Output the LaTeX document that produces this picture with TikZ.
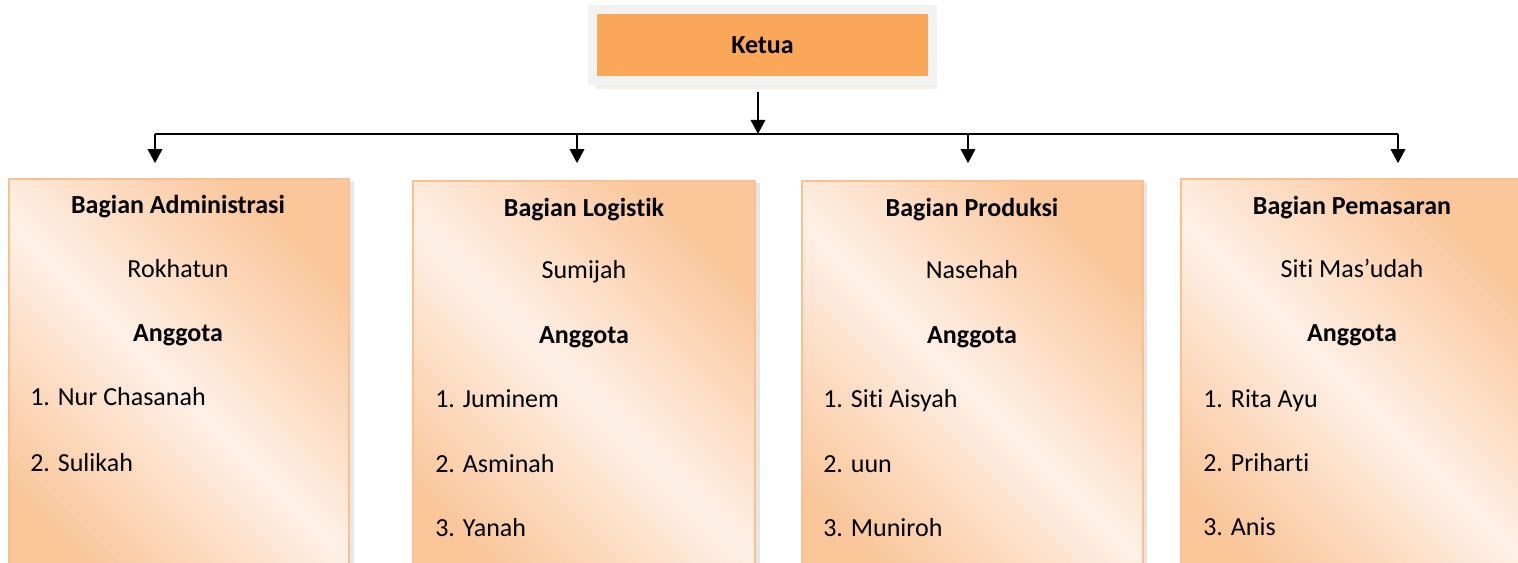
\documentclass[tikz,border=0pt]{standalone}
\usepackage{fontspec}
\setmainfont[Ligatures=NoCommon]{Carlito}
\usetikzlibrary{arrows.meta,positioning,shadows,calc}
\definecolor{ketuaorange}{HTML}{FAA75A}
\definecolor{ketuaframe}{HTML}{F2F2F2}
\definecolor{bagianedge}{HTML}{FAC090}
\definecolor{bagiandark}{HTML}{FAC69A}
\definecolor{bagianlight}{HTML}{FEF0E6}
\newcommand{\diagfont}{\fontsize{18.5}{22}\selectfont}
\tikzset{
  ketuabox/.style={draw=ketuaframe, line width=0.22cm, fill=ketuaorange, minimum width=8.5cm, minimum height=1.78cm, font=\diagfont\bfseries, drop shadow={opacity=0.2, shadow xshift=0.1cm, shadow yshift=-0.2cm, fill=brown!70}},
  bagianbox/.style={draw=bagianedge, line width=0.05cm, top color=bagiandark, bottom color=bagiandark, middle color=bagianlight, shading angle=-45, minimum width=8.5cm, minimum height=10.5cm, anchor=north, drop shadow={opacity=0.2, shadow xshift=0.12cm, shadow yshift=-0.05cm}},
  headtext/.style={font=\diagfont\bfseries, anchor=base, inner sep=0pt},
  nametext/.style={font=\diagfont, anchor=base, inner sep=0pt},
  itemtext/.style={font=\diagfont, anchor=base west, inner sep=0pt},
  arrow/.style={-{Triangle[length=0.35cm,width=0.36cm]}, line width=0.05cm},
  barline/.style={line width=0.05cm}
}

\begin{document}
\begin{tikzpicture}[x=0.025cm, y=-0.025cm]
  \useasboundingbox (0,0) rectangle (1518,563);
  \clip (0,0) rectangle (1518,563);

  \node[ketuabox] (ketua) at (762.5,45) {Ketua};

  \node[bagianbox] (adm) at (179,178) {};
  \node[bagianbox, minimum width=8.55cm] (log) at (584,180) {};
  \node[bagianbox] (prod) at (972.5,180) {};
  \node[bagianbox] (pem) at (1351,178) {};

  % connectors
  \coordinate (bar) at (758,134);
  \coordinate (barA) at (155,134);
  \coordinate (barB) at (577,134);
  \coordinate (barC) at (968,134);
  \coordinate (barD) at (1398,134);
  \draw[arrow, shorten <=0.17cm] (ketua.south -| bar) -- (bar);
  \draw[barline] (barA) -- (barD);
  \draw[arrow, shorten >=0.37cm] (barA) -- (barA |- adm.north);
  \draw[arrow, shorten >=0.42cm] (barB) -- (barB |- log.north);
  \draw[arrow, shorten >=0.42cm] (barC) -- (barC |- prod.north);
  \draw[arrow, shorten >=0.37cm] (barD) -- (barD |- pem.north);

  % Bagian Administrasi
  \node[headtext] (admhead) at (178,214) {Bagian Administrasi};
  \node[nametext] (admname) at (178,278) {Rokhatun};
  \node[headtext] (admang) at (178,342) {Anggota};
  \node[itemtext] (adm1) at (30,406) {1. Nur Chasanah};
  \node[itemtext] (adm2) at (30,471) {2. Sulikah};

  % Bagian Logistik
  \node[headtext] (loghead) at (584,217) {Bagian Logistik};
  \node[nametext] (logname) at (584,279) {Sumijah};
  \node[headtext] (logang) at (584,344) {Anggota};
  \node[itemtext] (log1) at (435,408) {1. Juminem};
  \node[itemtext] (log2) at (435,472) {2. Asminah};
  \node[itemtext] (log3) at (435,536) {3. Yanah};

  % Bagian Produksi
  \node[headtext] (prodhead) at (972,217) {Bagian Produksi};
  \node[nametext] (prodname) at (972,279) {Nasehah};
  \node[headtext] (prodang) at (972,344) {Anggota};
  \node[itemtext] (prod1) at (823,408) {1. Siti Aisyah};
  \node[itemtext] (prod2) at (823,472) {2. uun};
  \node[itemtext] (prod3) at (823,536) {3. Muniroh};

  % Bagian Pemasaran
  \node[headtext] (pemhead) at (1352,215) {Bagian Pemasaran};
  \node[nametext] (pemname) at (1352,278) {Siti Mas’udah};
  \node[headtext] (pemang) at (1352,342) {Anggota};
  \node[itemtext] (pem1) at (1203,407) {1. Rita Ayu};
  \node[itemtext] (pem2) at (1203,471) {2. Priharti};
  \node[itemtext] (pem3) at (1203,535) {3. Anis};
\end{tikzpicture}
\end{document}
